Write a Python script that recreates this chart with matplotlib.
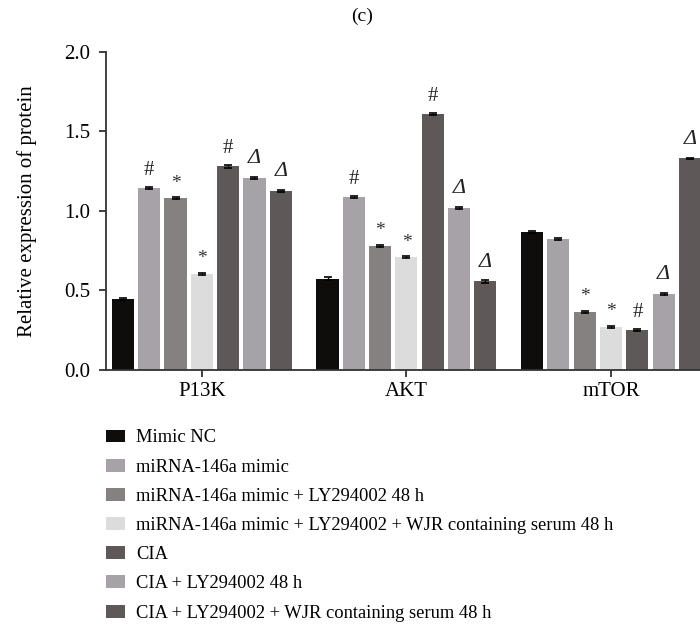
import matplotlib.pyplot as plt
import numpy as np
from matplotlib.patches import Patch

plt.rcParams['font.family'] = ['Liberation Serif', 'DejaVu Serif']

groups = ["P13K", "AKT", "mTOR"]
series = ["Mimic NC", "miRNA-146a mimic", "miRNA-146a mimic + LY294002 48 h",
          "miRNA-146a mimic + LY294002 + WJR containing serum 48 h", "CIA",
          "CIA + LY294002 48 h", "CIA + LY294002 + WJR containing serum 48 h"]
colors = ["#0e0d0c", "#a6a2a7", "#858180", "#dcdcdc", "#5e5958", "#a6a2a7", "#5e5958"]

# values[series][group]
values = [
    [0.447, 0.573, 0.868],
    [1.143, 1.087, 0.826],
    [1.080, 0.782, 0.365],
    [0.605, 0.710, 0.272],
    [1.280, 1.610, 0.252],
    [1.208, 1.020, 0.477],
    [1.125, 0.557, 1.330],
]
errs = [
    [0.008, 0.009, 0.007],
    [0.007, 0.006, 0.006],
    [0.006, 0.006, 0.006],
    [0.007, 0.006, 0.005],
    [0.007, 0.008, 0.005],
    [0.006, 0.006, 0.006],
    [0.007, 0.007, 0.005],
]
marks = [
    ["", "", ""],
    ["#", "#", ""],
    ["*", "*", "*"],
    ["*", "*", "*"],
    ["#", "#", "#"],
    ["Δ", "Δ", "Δ"],
    ["Δ", "Δ", "Δ"],
]

fig = plt.figure(figsize=(7.0, 6.26), dpi=100)
ax = fig.add_axes([0.151, 0.409, 0.849, 0.508])

x = np.arange(len(groups))
step = 0.1286
width = 0.108
for i in range(len(series)):
    pos = x + (i - 3) * step
    ax.bar(pos, values[i], width, color=colors[i], yerr=errs[i],
           error_kw=dict(ecolor="black", elinewidth=1, capsize=3, capthick=1.2))
    for j in range(len(groups)):
        m = marks[i][j]
        if not m:
            continue
        top = values[i][j] + errs[i][j]
        if m == "*":
            ax.text(pos[j], top + 0.035, "*", ha="center", va="bottom", fontsize=14, color="#333333")
        elif m == "#":
            ax.text(pos[j], top + 0.045, "#", ha="center", va="bottom", fontsize=15, color="#222222")
        else:
            ax.text(pos[j], top + 0.055, "Δ", ha="center", va="bottom", fontsize=16,
                    style="italic", color="#222222")

ax.set_xlim(-0.47, 2.435)
ax.set_ylim(0, 2.0)
ax.set_yticks([0.0, 0.5, 1.0, 1.5, 2.0])
ax.set_yticklabels(["0.0", "0.5", "1.0", "1.5", "2.0"])
ax.set_xticks(x)
ax.set_xticklabels(groups)
for s in ["top", "right"]:
    ax.spines[s].set_visible(False)
for s in ["left", "bottom"]:
    ax.spines[s].set_linewidth(1.3)
    ax.spines[s].set_color("#333333")
ax.tick_params(axis="both", labelsize=15, length=5, width=1.3, color="#333333", direction="out")
ax.tick_params(axis="y", pad=6)
ax.set_ylabel("Relative expression of protein", fontsize=15, labelpad=20)

fig.text(0.517, 0.974, "(c)", ha="center", va="center", fontsize=14)

handles = [Patch(facecolor=c, edgecolor="none") for c in colors]
fig.legend(handles, series, loc="upper left", bbox_to_anchor=(0.151, 0.314),
           frameon=False, fontsize=13.3, handlelength=1.05, handleheight=0.7,
           handletextpad=0.6, labelspacing=0.66, borderaxespad=0, borderpad=0)

fig.savefig("out.png", dpi=100)
